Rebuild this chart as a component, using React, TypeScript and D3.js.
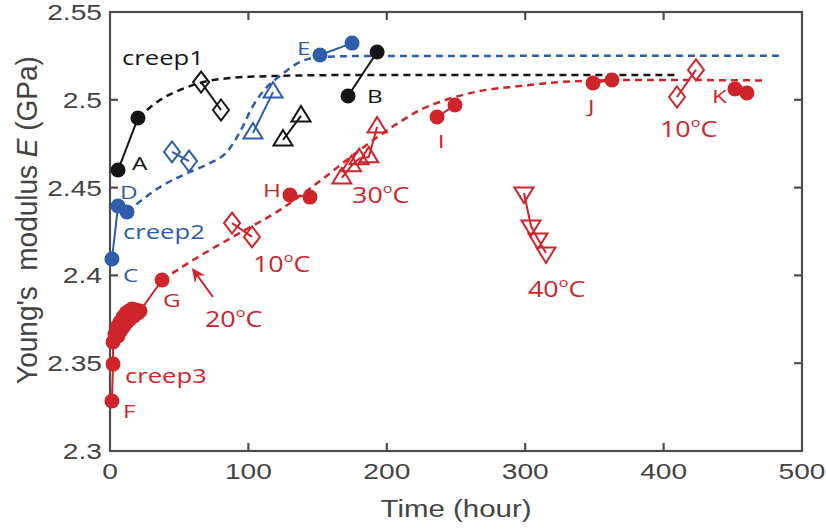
import React from "react";
import * as d3 from "d3";

const WIDTH = 826;
const HEIGHT = 531;

// Axis extents and ticks
const X_DOMAIN: [number, number] = [0, 500];
const Y_DOMAIN: [number, number] = [2.3, 2.55];
const xTickValues = [0, 100, 200, 300, 400, 500];
const xTickLabels = ["0", "100", "200", "300", "400", "500"];
const yTickValues = [2.3, 2.35, 2.4, 2.45, 2.5, 2.55];
const yTickLabels = ["2.3", "2.35", "2.4", "2.45", "2.5", "2.55"];

// ---- creep1 (black) ----
const c1A_t = [5.8, 20.2];
const c1A_E = [2.46, 2.4896];
const c1Dia_t = [65.8, 80.2];
const c1Dia_E = [2.5101, 2.4942];
const c1Tri_t = [125, 138];
const c1Tri_E = [2.4771, 2.4908];
const c1B_t = [172, 193];
const c1B_E = [2.5022, 2.5272];
const c1Fit_t = [20.2, 36.1, 50.6, 65.0, 86.7, 115.6, 173.4, 408];
const c1Fit_E = [2.4896, 2.4999, 2.5056, 2.5096, 2.5124, 2.5135, 2.5141, 2.5141];

// ---- creep2 (blue) ----
const c2CD_t = [1.4, 5.8, 12.3];
const c2CD_E = [2.4093, 2.4395, 2.4361];
const c2Dia_t = [44.8, 57.1];
const c2Dia_E = [2.4703, 2.4651];
const c2Tri_t = [103.3, 117.8];
const c2Tri_E = [2.4811, 2.5044];
const c2E_t = [151.7, 174.9];
const c2E_E = [2.5255, 2.5323];
const c2Fit_t = [12.3, 36.1, 57.8, 72.3, 84.5, 93.9, 103.3, 113.4, 122.8, 137.3, 151.7, 180.6, 484];
const c2Fit_E = [2.4361, 2.4503, 2.4589, 2.464, 2.4703, 2.4817, 2.4965, 2.5073, 2.5136, 2.5215, 2.5244, 2.5249, 2.5251];

// ---- creep3 (red) ----
const c3FG_t = [1.4, 2.2, 2.2, 3.6, 5.1, 5.8, 7.2, 8.0, 9.4, 10.1, 11.6, 12.3, 13.7, 14.5, 15.9, 17.3, 18.8, 20.2, 21.7, 37.6];
const c3FG_E = [2.3285, 2.3495, 2.3621, 2.3666, 2.3706, 2.3655, 2.3735, 2.3689, 2.3763, 2.3712, 2.3786, 2.3735, 2.3797, 2.3752, 2.3809, 2.3769, 2.3803, 2.3786, 2.3797, 2.3974];
const c3H_t = [130, 144.5];
const c3H_E = [2.4458, 2.4446];
const c3I_t = [236.3, 249.3];
const c3I_E = [2.4902, 2.497];
const c3J_t = [349, 362.7];
const c3J_E = [2.5096, 2.5113];
const c3K_t = [451.6, 460.2];
const c3K_E = [2.5062, 2.5039];
const c3Dia10a_t = [88.2, 102.6];
const c3Dia10a_E = [2.4298, 2.4219];
const c3Tri30_t = [167.5, 174.5, 180, 187, 193];
const c3Tri30_E = [2.4555, 2.4625, 2.4665, 2.4675, 2.4845];
const c3Tri40_t = [299.1, 304.2, 309.2, 315];
const c3Tri40_E = [2.4469, 2.4281, 2.4207, 2.4128];
const c3Dia10b_t = [409.7, 423.4];
const c3Dia10b_E = [2.5016, 2.517];
const c3Fit_t = [37.6, 65.0, 93.9, 122.8, 151.7, 180.6, 209.5, 224.0, 238.4, 267.3, 296.2, 325.1, 354.0, 390.2, 474.7];
const c3Fit_E = [2.3974, 2.4111, 2.4242, 2.4373, 2.4538, 2.4715, 2.4874, 2.4942, 2.4988, 2.505, 2.5078, 2.5101, 2.511, 2.5113, 2.511];

const BLACK = "#151515";
const BLUE = "#2d5dab";
const RED = "#d0242b";
const AXIS = "#4d4d4d";
const TICK_TEXT = "#444444";

const AXIS_FONT = "'Liberation Sans', Arial, Helvetica, sans-serif";
const NOTE_FONT = "'Open Sans', 'Noto Sans', sans-serif";
const STRETCH = 1.28;

type Marker = "circle" | "diamond" | "triUp" | "triDown";

interface Series {
  t: number[];
  E: number[];
  color: string;
  marker: Marker;
}

const series: Series[] = [
  { t: c1A_t, E: c1A_E, color: BLACK, marker: "circle" },
  { t: c1Dia_t, E: c1Dia_E, color: BLACK, marker: "diamond" },
  { t: c1Tri_t, E: c1Tri_E, color: BLACK, marker: "triUp" },
  { t: c1B_t, E: c1B_E, color: BLACK, marker: "circle" },
  { t: c2CD_t, E: c2CD_E, color: BLUE, marker: "circle" },
  { t: c2Dia_t, E: c2Dia_E, color: BLUE, marker: "diamond" },
  { t: c2Tri_t, E: c2Tri_E, color: BLUE, marker: "triUp" },
  { t: c2E_t, E: c2E_E, color: BLUE, marker: "circle" },
  { t: c3FG_t, E: c3FG_E, color: RED, marker: "circle" },
  { t: c3H_t, E: c3H_E, color: RED, marker: "circle" },
  { t: c3I_t, E: c3I_E, color: RED, marker: "circle" },
  { t: c3J_t, E: c3J_E, color: RED, marker: "circle" },
  { t: c3K_t, E: c3K_E, color: RED, marker: "circle" },
  { t: c3Dia10a_t, E: c3Dia10a_E, color: RED, marker: "diamond" },
  { t: c3Tri30_t, E: c3Tri30_E, color: RED, marker: "triUp" },
  { t: c3Tri40_t, E: c3Tri40_E, color: RED, marker: "triDown" },
  { t: c3Dia10b_t, E: c3Dia10b_E, color: RED, marker: "diamond" },
];

const fits = [
  { t: c1Fit_t, E: c1Fit_E, color: BLACK },
  { t: c2Fit_t, E: c2Fit_E, color: BLUE },
  { t: c3Fit_t, E: c3Fit_E, color: RED },
];

// Text annotations anchored in data coordinates (left edge, baseline)
interface Note {
  text: string;
  deg?: boolean;
  t: number;
  E: number;
  color: string;
  size: number;
}
const notes: Note[] = [
  { text: "creep1", t: 8.7, E: 2.5198, color: BLACK, size: 20 },
  { text: "A", t: 15.9, E: 2.46, color: BLACK, size: 19 },
  { text: "B", t: 185.7, E: 2.4982, color: BLACK, size: 19 },
  { text: "D", t: 7.2, E: 2.4435, color: BLUE, size: 19 },
  { text: "creep2", t: 9.4, E: 2.4207, color: BLUE, size: 20 },
  { text: "C", t: 9.4, E: 2.3962, color: BLUE, size: 19 },
  { text: "E", t: 135.1, E: 2.5255, color: BLUE, size: 19 },
  { text: "creep3", t: 10.8, E: 2.3387, color: RED, size: 20 },
  { text: "F", t: 9.4, E: 2.3188, color: RED, size: 19 },
  { text: "G", t: 38.3, E: 2.382, color: RED, size: 19 },
  { text: "H", t: 110.5, E: 2.4446, color: RED, size: 19 },
  { text: "I", t: 236.8, E: 2.4726, color: RED, size: 19 },
  { text: "J", t: 345.4, E: 2.4925, color: RED, size: 19 },
  { text: "K", t: 435, E: 2.4982, color: RED, size: 19 },
  { text: "20", deg: true, t: 68.6, E: 2.3706, color: RED, size: 21 },
  { text: "10", deg: true, t: 103.3, E: 2.4019, color: RED, size: 21 },
  { text: "30", deg: true, t: 174.9, E: 2.4412, color: RED, size: 21 },
  { text: "40", deg: true, t: 302, E: 2.3877, color: RED, size: 21 },
  { text: "10", deg: true, t: 397.4, E: 2.4788, color: RED, size: 21 },
];

// Arrow pointing at the 20°C stretch of the creep3 fit
const arrowFrom = { t: 74.4, E: 2.3877 };
const arrowTo = { t: 59.2, E: 2.4042 };

const x = d3.scaleLinear().domain(X_DOMAIN).range([110, 802]);
const y = d3.scaleLinear().domain(Y_DOMAIN).range([451, 12]);

function markerShape(m: Marker, cx: number, cy: number, color: string, key: string) {
  if (m === "circle") {
    return <circle key={key} cx={cx} cy={cy} r={7.5} fill={color} />;
  }
  let d = "";
  if (m === "diamond") {
    d = `M${cx},${cy - 10.5}L${cx + 8},${cy}L${cx},${cy + 10.5}L${cx - 8},${cy}Z`;
  } else if (m === "triUp") {
    d = `M${cx},${cy - 10}L${cx + 9.5},${cy + 5.5}L${cx - 9.5},${cy + 5.5}Z`;
  } else {
    d = `M${cx},${cy + 10}L${cx + 9.5},${cy - 5.5}L${cx - 9.5},${cy - 5.5}Z`;
  }
  return <path key={key} d={d} fill="none" stroke={color} strokeWidth={2} strokeLinejoin="miter" />;
}

export default function App() {
  const line = d3
    .line<[number, number]>()
    .x((p) => x(p[0]))
    .y((p) => y(p[1]));
  const fitLine = d3
    .line<[number, number]>()
    .x((p) => x(p[0]))
    .y((p) => y(p[1]))
    .curve(d3.curveMonotoneX);

  const x0 = x(X_DOMAIN[0]);
  const x1 = x(X_DOMAIN[1]);
  const y0 = y(Y_DOMAIN[0]);
  const y1 = y(Y_DOMAIN[1]);
  const tickLen = 8;

  // arrow geometry
  const ax1 = x(arrowFrom.t), ay1 = y(arrowFrom.E);
  const ax2 = x(arrowTo.t), ay2 = y(arrowTo.E);
  const len = Math.hypot(ax2 - ax1, ay2 - ay1);
  const ux = (ax2 - ax1) / len, uy = (ay2 - ay1) / len;
  const nx = -uy, ny = ux;
  const hl = 14, hw = 6.5;
  const head = [
    [ax2, ay2],
    [ax2 - hl * ux + hw * nx, ay2 - hl * uy + hw * ny],
    [ax2 - 0.65 * hl * ux, ay2 - 0.65 * hl * uy],
    [ax2 - hl * ux - hw * nx, ay2 - hl * uy - hw * ny],
  ]
    .map((p) => p.join(","))
    .join(" ");

  return (
    <svg width={WIDTH} height={HEIGHT} style={{ position: "absolute", left: 0, top: 0, background: "#fff" }}>
      <rect width={WIDTH} height={HEIGHT} fill="#fff" />

      {/* axes box and ticks */}
      <g stroke={AXIS} strokeWidth={2.2} fill="none">
        <rect x={x0} y={y1} width={x1 - x0} height={y0 - y1} />
        {xTickValues.slice(1, -1).map((v) => (
          <g key={"xt" + v}>
            <line x1={x(v)} x2={x(v)} y1={y0} y2={y0 - tickLen} />
            <line x1={x(v)} x2={x(v)} y1={y1} y2={y1 + tickLen} />
          </g>
        ))}
        {yTickValues.slice(1, -1).map((v) => (
          <g key={"yt" + v}>
            <line x1={x0} x2={x0 + tickLen} y1={y(v)} y2={y(v)} />
            <line x1={x1} x2={x1 - tickLen} y1={y(v)} y2={y(v)} />
          </g>
        ))}
      </g>

      {/* tick labels */}
      <g fill={TICK_TEXT} fontFamily={AXIS_FONT} fontSize={22}>
        {xTickValues.map((v, i) => (
          <text key={"xl" + v} transform={`translate(${x(v)},${y0 + 28}) scale(${STRETCH},1)`} textAnchor="middle">
            {xTickLabels[i]}
          </text>
        ))}
        {yTickValues.map((v, i) => (
          <text key={"yl" + v} transform={`translate(${x0 - 8},${y(v) + 8}) scale(${STRETCH},1)`} textAnchor="end">
            {yTickLabels[i]}
          </text>
        ))}
      </g>

      {/* axis titles */}
      <text
        fill={TICK_TEXT}
        fontFamily={AXIS_FONT}
        fontSize={23}
        textAnchor="middle"
        transform={`translate(${(x0 + x1) / 2},${y0 + 66}) scale(${STRETCH},1)`}
      >
        Time (hour)
      </text>
      <text
        fill={TICK_TEXT}
        fontFamily={AXIS_FONT}
        fontSize={28}
        textAnchor="middle"
        style={{ whiteSpace: "pre" }}
        transform={`translate(37,220) scale(1.05,1) rotate(-90)`}
      >
        {"Young's  modulus "}
        <tspan fontStyle="italic">E</tspan>
        {" (GPa)"}
      </text>

      {/* fitted curves */}
      {fits.map((f, i) => (
        <path
          key={"fit" + i}
          d={fitLine(f.t.map((t, j) => [t, f.E[j]] as [number, number])) || ""}
          fill="none"
          stroke={f.color}
          strokeWidth={2.5}
          strokeDasharray="7,5"
        />
      ))}

      {/* connecting lines */}
      {series.map((s, i) => (
        <path
          key={"ln" + i}
          d={line(s.t.map((t, j) => [t, s.E[j]] as [number, number])) || ""}
          fill="none"
          stroke={s.color}
          strokeWidth={2}
        />
      ))}

      {/* markers */}
      {series.map((s, i) => (
        <g key={"mk" + i}>{s.t.map((t, j) => markerShape(s.marker, x(t), y(s.E[j]), s.color, `m${i}-${j}`))}</g>
      ))}

      {/* arrow */}
      <line x1={ax1} y1={ay1} x2={ax2 - 0.6 * hl * ux} y2={ay2 - 0.6 * hl * uy} stroke={RED} strokeWidth={2} />
      <polygon points={head} fill={RED} />

      {/* annotations */}
      {notes.map((n, i) => (
        <text
          key={"nt" + i}
          fill={n.color}
          fontFamily={NOTE_FONT}
          fontSize={n.size}
          transform={`translate(${x(n.t)},${y(n.E)}) scale(${STRETCH},1)`}
        >
          {n.text}
          {n.deg ? (
            <>
              <tspan dy={-10} fontSize={n.size * 0.6}>
                o
              </tspan>
              <tspan dy={10}>C</tspan>
            </>
          ) : null}
        </text>
      ))}
    </svg>
  );
}
